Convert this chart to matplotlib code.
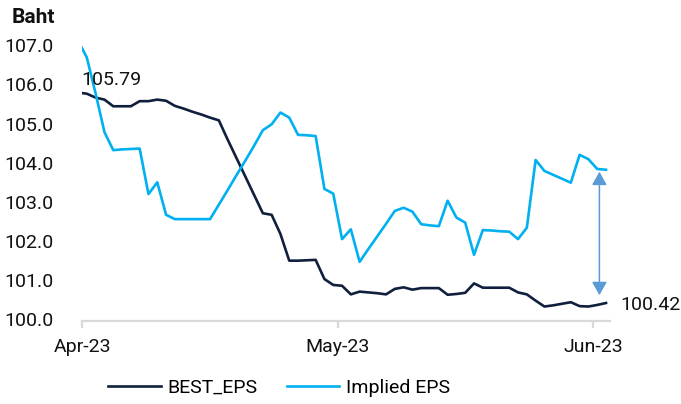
import matplotlib
matplotlib.use("Agg")
import matplotlib.pyplot as plt

plt.rcParams['font.family'] = ['Roboto', 'DejaVu Sans']

# daily points, first one falls just left of the axis start
best_eps = [105.79, 105.76, 105.66, 105.61, 105.44, 105.44, 105.44, 105.57, 105.57, 105.61,
            105.58, 105.45, 105.38, 105.30, 105.23, 105.15, 105.08, 104.59, 104.12, 103.65,
            103.18, 102.71, 102.67, 102.18, 101.50, 101.50, 101.51, 101.52, 101.03, 100.88,
            100.86, 100.64, 100.71, 100.69, 100.67, 100.64, 100.78, 100.82, 100.76, 100.80,
            100.80, 100.80, 100.63, 100.65, 100.68, 100.92, 100.81, 100.81, 100.81, 100.81,
            100.69, 100.64, 100.48, 100.33, 100.36, 100.40, 100.44, 100.34, 100.33, 100.37,
            100.42]
implied_eps = [107.12, 106.68, 105.76, 104.78, 104.32, 104.34, 104.35, 104.36, 103.20, 103.50,
               102.67, 102.56, 102.56, 102.56, 102.56, 102.56, 102.93, 103.30, 103.68, 104.05,
               104.43, 104.83, 104.98, 105.28, 105.15, 104.71, 104.70, 104.68, 103.33, 103.21,
               102.05, 102.30, 101.47, 101.80, 102.12, 102.44, 102.77, 102.85, 102.75, 102.43,
               102.40, 102.38, 103.03, 102.60, 102.47, 101.65, 102.28, 102.27, 102.25, 102.24,
               102.05, 102.34, 104.07, 103.79, 103.69, 103.59, 103.49, 104.20, 104.09, 103.84,
               103.82]
days = list(range(len(best_eps)))

month_ticks = [0.5, 29.5, 58.5]
month_labels = ['Apr-23', 'May-23', 'Jun-23']
y_ticks = [100, 101, 102, 103, 104, 105, 106, 107]

dark = '#0f1f3d'
light = '#00b0f0'
arrow_col = '#5b9bd5'
fs = 14

fig = plt.figure(figsize=(6.81, 4.04), dpi=100)
ax = fig.add_axes([0.1211, 0.2054, 0.7746, 0.6926])

ax.plot(days, best_eps, color=dark, lw=1.9, label='BEST_EPS')
ax.plot(days, implied_eps, color=light, lw=1.9, label='Implied EPS')

ax.set_xlim(0.5, 60.45)
ax.set_ylim(99.96, 107.1)
ax.set_xticks(month_ticks)
ax.set_xticklabels(month_labels)
ax.set_yticks(y_ticks)
ax.set_yticklabels([f"{v:.1f}" for v in y_ticks])

for s in ['top', 'right', 'left']:
    ax.spines[s].set_visible(False)
ax.spines['bottom'].set_color('#d9d9d9')
ax.spines['bottom'].set_linewidth(1.6)
ax.tick_params(axis='x', direction='out', length=5, width=1.6, color='#d9d9d9',
               labelsize=fs, pad=7, labelcolor='#111111')
ax.tick_params(axis='y', length=0, labelsize=fs, pad=21, labelcolor='#111111')

# start / end value labels
ax.annotate(f"{best_eps[0]:.2f}", xy=(0.5, best_eps[0]), xytext=(-1, 9),
            textcoords='offset points', ha='left', va='center', fontsize=fs, color='#111111')
ax.annotate(f"{best_eps[-1]:.2f}", xy=(days[-1], best_eps[-1]), xytext=(10, -1.5),
            textcoords='offset points', ha='left', va='center', fontsize=fs,
            color='#111111', annotation_clip=False)

# gap arrow
ax.annotate('', xy=(59.25, 103.77), xytext=(59.25, 100.62),
            arrowprops=dict(arrowstyle='<|-|>,head_length=0.8,head_width=0.45',
                            color=arrow_col, lw=1.1, shrinkA=0, shrinkB=0))

fig.text(12 / 681, 1 - 17.5 / 404, 'Baht', ha='left', va='center',
         fontsize=15, fontweight='bold', color='#111111')

fig.legend(loc='center', bbox_to_anchor=(0.41, 0.04), ncol=2, frameon=False,
           fontsize=fs, handlelength=2.7, handletextpad=0.35, columnspacing=1.5)

fig.savefig('out.png', dpi=100)
